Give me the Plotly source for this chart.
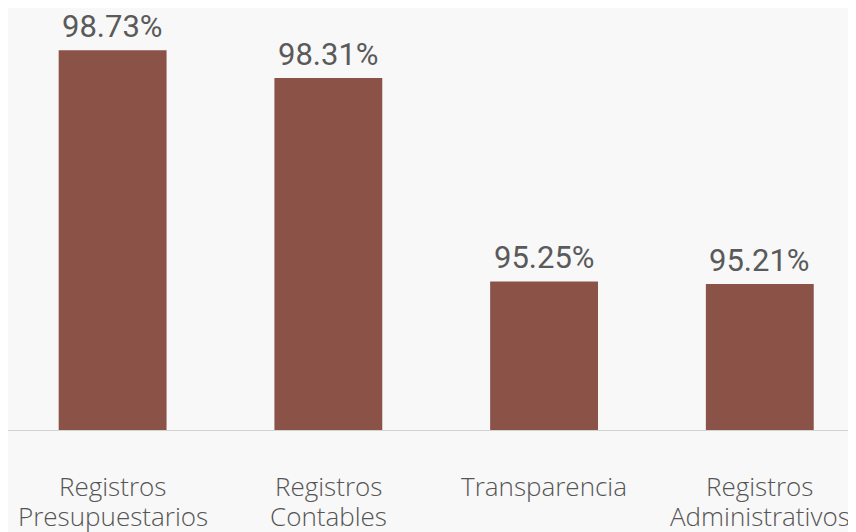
import plotly.graph_objects as go

categories = ["Registros<br>Presupuestarios", "Registros<br>Contables", "Transparencia", "Registros<br>Administrativos"]
values = [98.73, 98.31, 95.25, 95.21]
value_labels = ["98.73%", "98.31%", "95.25%", "95.21%"]
y_base = 93

x_pos = list(range(len(categories)))

fig = go.Figure()
fig.add_trace(go.Bar(
    x=x_pos, y=[v - y_base for v in values], base=y_base, width=0.5,
    marker=dict(color="#8B5247", line=dict(width=0)),
    hoverinfo="skip",
))

for xi, v, t in zip(x_pos, values, value_labels):
    fig.add_annotation(x=xi, y=v, text=t, showarrow=False, yanchor="bottom",
                       yshift=3, font=dict(family="Roboto", size=31, color="#5a5a5a"))

# category labels, one annotation per text line
line_shifts = [-55, -85]
for xi, cat in zip(x_pos, categories):
    for li, part in enumerate(cat.split("<br>")):
        fig.add_annotation(x=xi, xref="x", y=0, yref="paper", text=part, showarrow=False,
                           yanchor="middle", yshift=line_shifts[li], borderpad=0,
                           font=dict(family="Open Sans", size=26, color="#555555", weight=300))

fig.update_layout(
    width=848, height=524,
    margin=dict(l=0, r=0, t=0, b=101),
    paper_bgcolor="#f8f8f8", plot_bgcolor="rgba(0,0,0,0)",
    showlegend=False,
    xaxis=dict(range=[-0.485, 3.446], showticklabels=False,
               showgrid=False, zeroline=False, showline=False, ticks=""),
    yaxis=dict(range=[y_base, 99.364], visible=False, showgrid=False),
    shapes=[dict(type="line", xref="paper", yref="y", x0=0, x1=1, y0=y_base, y1=y_base,
                 line=dict(color="#d2d2d2", width=2))],
)
fig.write_html("out.html")
